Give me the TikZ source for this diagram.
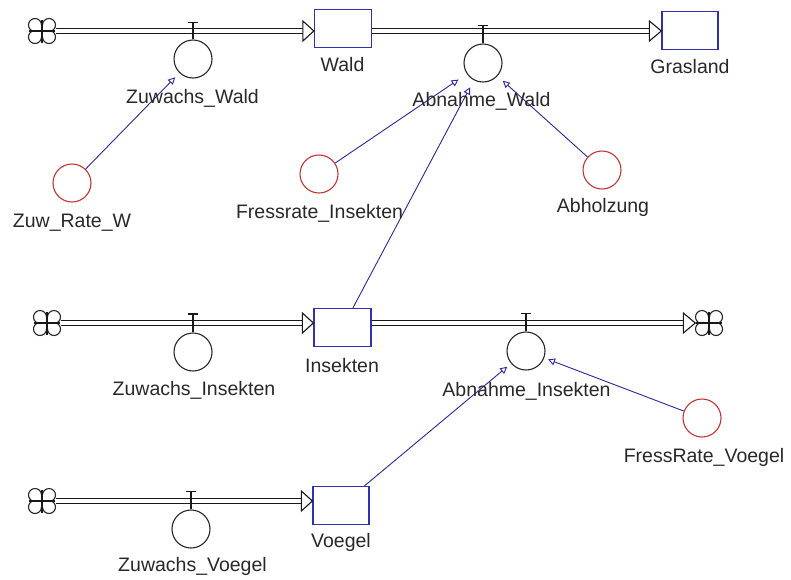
\documentclass[tikz,border=0pt]{standalone}
\usepackage{fontspec}
\setmainfont{Liberation Sans}
\usetikzlibrary{arrows.meta,calc}
\definecolor{stockblue}{RGB}{48,48,176}
\definecolor{linkblue}{RGB}{40,40,160}
\definecolor{auxred}{RGB}{200,50,50}
\definecolor{txt}{RGB}{40,40,40}
\tikzset{
  cloudpic/.pic={
    \draw[line width=1.1pt,black!85] (7,6) circle (6.5) (-7,6) circle (6.5) (7,-6) circle (6.5) (-7,-6) circle (6.5);
    \fill[white] (-7,-6) rectangle (7,6);
    \draw[line width=2pt,black!90] (-13,0) -- (13,0) (0,-11.5) -- (0,11.5);
  }
}
\begin{document}
\begin{tikzpicture}[x=1pt,y=-1pt,
  stock/.style={draw=stockblue,line width=1.3pt,fill=white,minimum width=57pt,minimum height=38pt,inner sep=0},
  valve/.style={circle,draw=black!85,line width=1.1pt,minimum size=38pt,inner sep=0},
  aux/.style={circle,draw=auxred,line width=1.1pt,minimum size=38pt,inner sep=0},
  lbl/.style={text=txt,font=\fontsize{19.5}{22}\selectfont,inner sep=0,anchor=base},
  cloudnode/.style={minimum width=27pt,minimum height=25pt,inner sep=0},
  pipe/.style={draw=black!90,double=white,double distance=3.8pt,line width=1.3pt},
  fliptip/.style={draw=black!90,fill=white,line width=1.1pt,line join=miter},
  link/.style={draw=linkblue,line width=0.9pt,-{Triangle[open,length=7pt,width=7pt]}},
  tbar/.style={draw=black!90,line width=1.2pt}
]
\useasboundingbox (0,0) rectangle (791,579);

% clouds
\node[cloudnode] (c1) at (42,31) {};
\node[cloudnode] (c2) at (47,323) {};
\node[cloudnode] (c3) at (709,323) {};
\node[cloudnode] (c4) at (42,501) {};
\pic at (c1) {cloudpic};
\pic at (c2) {cloudpic};
\pic at (c3) {cloudpic};
\pic at (c4) {cloudpic};

% stocks
\node[stock] (wald) at (343,28.5) {};
\node[stock,minimum width=56pt] (gras) at (690,30.5) {};
\node[stock] (ins) at (342.5,327.5) {};
\node[stock,minimum width=56pt] (voe) at (341,505.5) {};

% pipes
\draw[pipe] (c1.east) -- ($(c1 -| wald.west)+(-11,0)$);
\draw[fliptip] (c1 -| wald.west) -- ++(-11,-10) -- ++(0,20) -- cycle;
\draw[pipe] (wald.east |- c1) -- ($(c1 -| gras.west)+(-12,0)$);
\draw[fliptip] (c1 -| gras.west) -- ++(-12,-10) -- ++(0,20) -- cycle;
\draw[pipe] (c2.east) -- ($(c2 -| ins.west)+(-11,0)$);
\draw[fliptip] (c2 -| ins.west) -- ++(-11,-10) -- ++(0,20) -- cycle;
\draw[pipe] (ins.east |- c2) -- ($(c3.west)+(-12,0)$);
\draw[fliptip] (c3.west) -- ++(-12,-10) -- ++(0,20) -- cycle;
\draw[pipe] (c4.east) -- ($(c4 -| voe.west)+(-11,0)$);
\draw[fliptip] (c4 -| voe.west) -- ++(-11,-10) -- ++(0,20) -- cycle;

% valves
\node[valve] (vzw) at (193,59) {};
\node[valve] (vaw) at (483,63) {};
\node[valve] (vzi) at (193,352) {};
\node[valve] (vai) at (526,351) {};
\node[valve] (vzv) at (191,529) {};
\draw[tbar] (vzw.north) -- ++(0,-17) ++(-5,0) -- ++(10,0);
\draw[tbar] (vaw.north) -- ++(0,-18) ++(-5,0) -- ++(10,0);
\draw[tbar] (vzi.north) -- ++(0,-18.5) ++(-5,0) -- ++(10,0);
\draw[tbar] (vai.north) -- ++(0,-18) ++(-5,0) -- ++(10,0);
\draw[tbar] (vzv.north) -- ++(0,-18) ++(-5,0) -- ++(10,0);

% auxiliaries
\node[aux] (zrw) at (72,183) {};
\node[aux] (fri) at (319,174) {};
\node[aux] (abh) at (602,170) {};
\node[aux] (frv) at (702,418) {};

% links
\draw[link,shorten >=6pt] (zrw) -- (vzw);
\draw[link,shorten >=10pt] (fri) -- (vaw);
\draw[link,shorten >=8pt] (ins) -- (vaw);
\draw[link,shorten >=7pt] (abh) -- (vaw);
\draw[link,shorten >=5pt] (voe) -- (vai);
\draw[link,shorten >=4pt] (frv) -- (vai);

% labels
\node[lbl] (lwald) at (342.5,71.5) {Wald};
\node[lbl] (lgras) at (690,73) {Grasland};
\node[lbl] (lzw) at (192.5,103) {Zuwachs\_Wald};
\node[lbl] (law) at (481.5,106) {Abnahme\_Wald};
\node[lbl] (lzrw) at (72,227) {Zuw\_Rate\_W};
\node[lbl] (lfri) at (319.5,218) {Fressrate\_Insekten};
\node[lbl] (labh) at (603,212.5) {Abholzung};
\node[lbl] (lins) at (342,372) {Insekten};
\node[lbl] (lzi) at (194,395) {Zuwachs\_Insekten};
\node[lbl] (lai) at (526.5,396) {Abnahme\_Insekten};
\node[lbl] (lfrv) at (704,462) {FressRate\_Voegel};
\node[lbl] (lvoe) at (341,547.5) {Voegel};
\node[lbl] (lzv) at (192.5,571) {Zuwachs\_Voegel};
\end{tikzpicture}
\end{document}
